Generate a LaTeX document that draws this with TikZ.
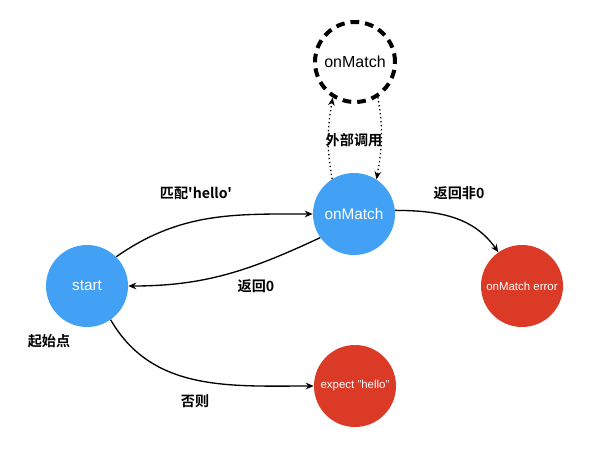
\documentclass[tikz,border=0pt]{standalone}
\usepackage{fontspec}
\setmainfont{Liberation Sans}
\newfontfamily\cjk{Noto Sans CJK SC}[BoldFont={Noto Sans CJK SC Bold}]
\usetikzlibrary{arrows.meta}
\definecolor{nblue}{HTML}{42A0F5}
\definecolor{nred}{HTML}{DB3B26}
\begin{document}
\begin{tikzpicture}[x=0.75pt,y=-0.75pt,
  bluenode/.style={circle,fill=nblue,minimum size=61.5pt,inner sep=0pt,text=white,font=\fontsize{11.5}{13}\selectfont},
  rednode/.style={circle,fill=nred,minimum size=61.5pt,inner sep=0pt,text=white,font=\fontsize{8.6}{10}\selectfont},
  dashnode/.style={circle,draw=black,line width=3pt,dash pattern=on 6.5pt off 4.5pt,minimum size=60pt,inner sep=0pt,font=\fontsize{12}{14}\selectfont},
  lbl/.style={font=\cjk\bfseries\fontsize{10.6}{12}\selectfont,inner sep=0pt},
  arr/.style={-{Stealth[length=6pt,width=5pt]},line width=1pt},
  darr/.style={-{Stealth[length=6pt,width=5pt]},line width=1pt,dotted}]
\useasboundingbox (0,0) rectangle (600,454);
\node[bluenode] (start) at (87,286) {start};
\node[bluenode] (om) at (354,214) {onMatch};
\node[dashnode] (omx) at (355,62) {onMatch};
\node[rednode] (err) at (522,286) {onMatch error};
\node[rednode] (exp) at (355,386) {expect "hello"};
\node[lbl] (l1) at (196,193) {匹配\textbf{'hello'}};
\node[lbl] (l2) at (256,286) {返回\textbf{0}};
\node[lbl] (l3) at (49,341) {起始点};
\node[lbl] (l4) at (195,401) {否则};
\node[lbl] (l5) at (354,140) {外部调用};
\node[lbl] (l6) at (459,193) {返回非\textbf{0}};
\draw[arr] (start.45) to[out=35,in=180] (om.west);
\draw[arr] (om.215) to[out=205,in=0] (start.east);
\draw[arr] (start.-55) to[out=-60,in=180] (exp.west);
\draw[arr] (om.5) to[out=0,in=125] (err.125);
\draw[darr] (om.122) to[out=100,in=-100] (omx.-122);
\draw[darr] (omx.-57) to[out=-80,in=80] (om.57);
\end{tikzpicture}
\end{document}
